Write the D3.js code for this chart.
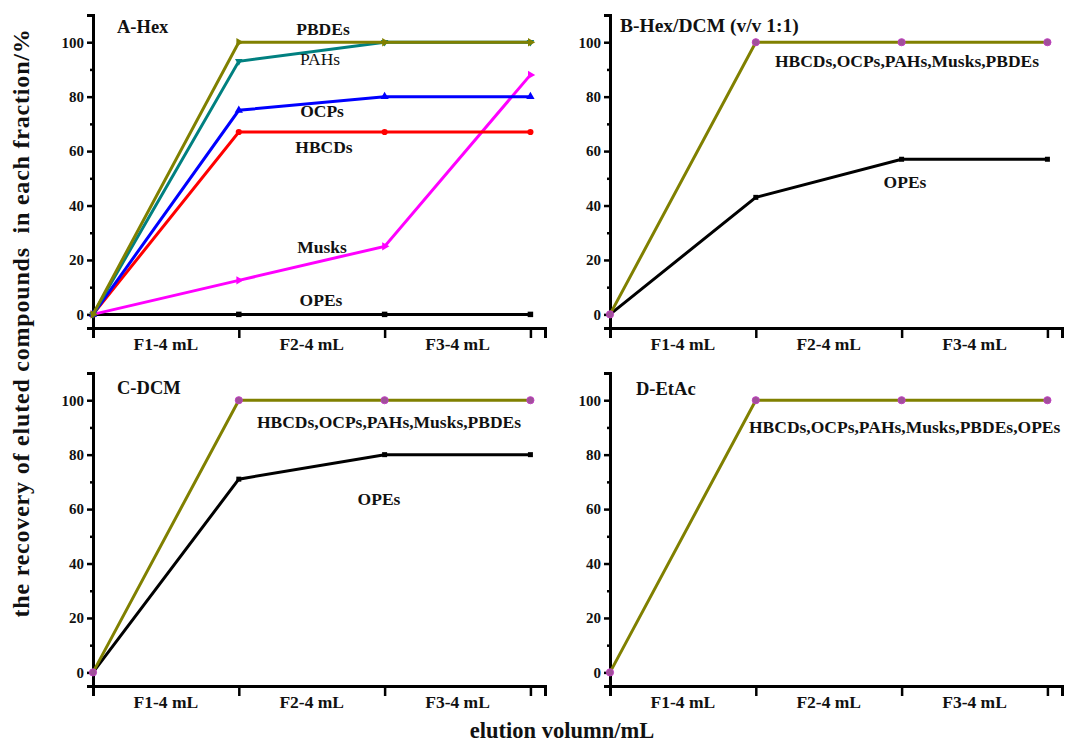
<!DOCTYPE html>
<html lang="en">
<head>
<meta charset="UTF-8">
<title>Elution recovery</title>
<script src="https://cdn.jsdelivr.net/npm/d3@7/dist/d3.min.js"></script>
<style>
  body { margin: 0; background: #fff; }
  text { font-family: "Liberation Serif", "Times New Roman", serif; font-weight: bold; fill: #111; }
</style>
</head>
<body>
<svg width="1066" height="742"></svg>
<script>
// x positions: start (0) then the three fractions
const steps = [0, 1, 2, 3];
const fractions = ["F1-4 mL", "F2-4 mL", "F3-4 mL"];
const yTicks = [0, 20, 40, 60, 80, 100];

// panel A - Hex
const aPBDEs = [0, 100, 100, 100];
const aPAHs = [0, 93, 100, 100];
const aOCPs = [0, 75, 80, 80];
const aHBCDs = [0, 67, 67, 67];
const aMusks = [0, 12.5, 25, 88];
const aOPEs = [0, 0, 0, 0];

// panel B - Hex/DCM
const bAll = [0, 100, 100, 100];
const bOPEs = [0, 43, 57, 57];

// panel C - DCM
const cAll = [0, 100, 100, 100];
const cOPEs = [0, 71, 80, 80];

// panel D - EtAc
const dAll = [0, 100, 100, 100];

const olive = "#808000";

let svg = d3.select("svg");
let W = 452, H = 313;

function panel(left, top, title, series, labels) {
    let g = svg.append("g").attr("transform", `translate(${left},${top})`);
    let x = d3.scaleLinear().domain([0, 3.1]).range([0, W]);
    let y = d3.scaleLinear().domain([-5, 110]).range([H, 0]);

    // y axis: major ticks every 20, minor every 10
    let ya = g.append("g").call(d3.axisLeft(y).tickValues(yTicks).tickSize(6).tickPadding(3));
    g.append("g").call(d3.axisLeft(y).tickValues([10, 30, 50, 70, 90, 110]).tickSize(3).tickFormat(""));
    // x axis
    g.append("g").attr("transform", `translate(0,${H})`)
        .call(d3.axisBottom(x).tickValues(steps).tickSize(10).tickFormat(""));
    g.selectAll(".domain").attr("stroke", "#000").attr("stroke-width", 3);
    g.selectAll(".tick line").attr("stroke", "#000").attr("stroke-width", 2.5);
    ya.selectAll("text").style("font-size", "15px").attr("fill", "#111")
        .style("font-family", "Liberation Serif").style("font-weight", "bold");

    g.append("g").selectAll("text").data(fractions).join("text")
        .attr("x", (d, i) => x(i + 0.5)).attr("y", H + 22)
        .attr("text-anchor", "middle").style("font-size", "17.5px").text(d => d);

    g.append("text").attr("x", title.x).attr("y", title.y)
        .style("font-size", title.size + "px").text(title.text);

    let line = d3.line().x((d, i) => x(steps[i])).y(d => y(d));
    series.forEach(s => {
        g.append("path").datum(s.values).attr("d", line)
            .attr("fill", "none").attr("stroke", s.color).attr("stroke-width", 3)
            .attr("stroke-linejoin", "miter");
        g.append("g").selectAll("path").data(s.values).join("path")
            .attr("transform", (d, i) => `translate(${x(steps[i])},${y(d)}) rotate(${s.rot || 0})`)
            .attr("d", d3.symbol().type(s.symbol).size(s.size || 30))
            .attr("fill", s.mfill || s.color)
            .attr("stroke", s.mstroke || "none").attr("stroke-width", 1);
    });

    labels.forEach(l => {
        g.append("text").attr("x", l.x).attr("y", l.y)
            .attr("text-anchor", l.anchor || "middle")
            .style("font-size", "17.5px")
            .style("font-weight", l.normal ? "normal" : "bold")
            .attr("fill", l.fill || "#111")
            .text(l.text);
    });
}

panel(93, 15, {text: "A-Hex", x: 24, y: 18, size: 18.5}, [
    {values: aOPEs, color: "#000", symbol: d3.symbolSquare, size: 30},
    {values: aMusks, color: "#ff00ff", symbol: d3.symbolTriangle, rot: 90, size: 30},
    {values: aHBCDs, color: "#ff0000", symbol: d3.symbolCircle, size: 30},
    {values: aOCPs, color: "#0000ff", symbol: d3.symbolTriangle, size: 30},
    {values: aPAHs, color: "#008080", symbol: d3.symbolTriangle, rot: 180, size: 25},
    {values: aPBDEs, color: olive, symbol: d3.symbolTriangle, rot: 90, size: 30}
], [
    {text: "PBDEs", x: 230, y: 20},
    {text: "PAHs", x: 227, y: 50, normal: true, fill: "#333"},
    {text: "OCPs", x: 229, y: 102},
    {text: "HBCDs", x: 231, y: 138},
    {text: "Musks", x: 229, y: 238},
    {text: "OPEs", x: 228, y: 291}
]);

panel(610, 15, {text: "B-Hex/DCM (v/v 1:1)", x: 10, y: 17, size: 19.5}, [
    {values: bOPEs, color: "#000", symbol: d3.symbolSquare, size: 25},
    {values: bAll, color: olive, symbol: d3.symbolCircle, size: 40, mfill: "#a0509a", mstroke: "#c040c0"}
], [
    {text: "HBCDs,OCPs,PAHs,Musks,PBDEs", x: 297, y: 52},
    {text: "OPEs", x: 295, y: 173}
]);

panel(93, 373, {text: "C-DCM", x: 24, y: 21, size: 18.5}, [
    {values: cOPEs, color: "#000", symbol: d3.symbolSquare, size: 25},
    {values: cAll, color: olive, symbol: d3.symbolCircle, size: 40, mfill: "#a0509a", mstroke: "#c040c0"}
], [
    {text: "HBCDs,OCPs,PAHs,Musks,PBDEs", x: 296, y: 55},
    {text: "OPEs", x: 286, y: 132}
]);

panel(610, 373, {text: "D-EtAc", x: 26, y: 22, size: 18.5}, [
    {values: dAll, color: olive, symbol: d3.symbolCircle, size: 40, mfill: "#a0509a", mstroke: "#c040c0"}
], [
    {text: "HBCDs,OCPs,PAHs,Musks,PBDEs,OPEs", x: 139, y: 60, anchor: "start"}
]);

svg.append("text").attr("transform", "translate(29,323) rotate(-90)")
    .attr("text-anchor", "middle").style("font-size", "24px")
    .style("letter-spacing", "0.8px")
    .style("white-space", "pre")
    .text("the recovery of eluted compounds  in each fraction/%");

svg.append("text").attr("x", 562).attr("y", 738)
    .attr("text-anchor", "middle").style("font-size", "22.5px")
    .text("elution volumn/mL");
</script>
</body>
</html>
